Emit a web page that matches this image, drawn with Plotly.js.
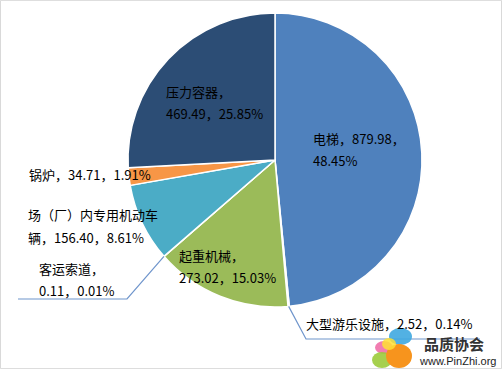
<!DOCTYPE html>
<html>
<head>
<meta charset="utf-8">
<script src="https://cdn.plot.ly/plotly-3.0.1.min.js"></script>
<style>html,body{margin:0;padding:0;background:#fff;}#chart{width:502px;height:369px;}</style>
</head>
<body>
<div id="chart"></div>
<script>
// Data
const categories = ["电梯", "大型游乐设施", "起重机械", "客运索道", "场（厂）内专用机动车辆", "锅炉", "压力容器"];
const values = [879.98, 2.52, 273.02, 0.11, 156.40, 34.71, 469.49];
const colors = ["#4F81BD", "#C0504D", "#9BBB59", "#8064A2", "#4BACC6", "#F79646", "#2C4D75"];

const W = 502, H = 369;
const cx = 275, cy = 160, R = 147;
const px = x => x / W;
const py = y => 1 - y / H;

const total = values.reduce((a, b) => a + b, 0);
const pct = values.map(v => (v / total * 100).toFixed(2) + "%");
const val = values.map(v => v.toFixed(2));

const labelDefs = [
  {i: 6, lines: [categories[6] + "，", val[6] + "，" + pct[6]], x: 164, y: 91},
  {i: 0, lines: [categories[0] + "，" + val[0] + "，", pct[0]], x: 311, y: 138},
  {i: 5, lines: [categories[5] + "，" + val[5] + "，" + pct[5]], x: 27, y: 174},
  {i: 4, lines: ["场（厂）内专用机动车", "辆，" + val[4] + "，" + pct[4]], x: 26, y: 215},
  {i: 3, lines: [categories[3] + "，", val[3] + "，" + pct[3]], x: 37, y: 268},
  {i: 2, lines: [categories[2] + "，", val[2] + "，" + pct[2]], x: 177, y: 255},
  {i: 1, lines: [categories[1] + "，" + val[1] + "，" + pct[1]], x: 304, y: 323}
];

const annotations = [];
labelDefs.forEach(d => {
  d.lines.forEach((t, k) => {
    annotations.push({
      text: t, x: px(d.x), y: py(d.y + k * 22), xref: "paper", yref: "paper",
      xanchor: "left", yanchor: "middle", showarrow: false,
      font: {family: "Noto Sans CJK SC, sans-serif", size: 13, color: "#000"}
    });
  });
});

function edgePoint(idx) {
  let before = 0;
  for (let j = 0; j < idx; j++) before += values[j];
  const frac = (before + values[idx] / 2) / total;
  const a = frac * 2 * Math.PI;
  return [cx + R * Math.sin(a), cy - R * Math.cos(a)];
}
const p3 = edgePoint(3), p1 = edgePoint(1);
const lineStyle = {color: "#6F95CC", width: 1.2};
const shapes = [
  {type: "rect", xref: "paper", yref: "paper", x0: 0.001, x1: 0.999, y0: 0.001, y1: 0.999, line: {color: "#D9D9D9", width: 1}},
  {type: "path", xref: "paper", yref: "paper", path: `M ${px(p3[0])} ${py(p3[1])} L ${px(127)} ${py(299)} L ${px(18)} ${py(299)}`, line: lineStyle},
  {type: "path", xref: "paper", yref: "paper", path: `M ${px(p1[0])} ${py(p1[1])} L ${px(306)} ${py(339)} L ${px(480)} ${py(339)}`, line: lineStyle},
  {type: "circle", xref: "paper", yref: "paper", x0: px(375), x1: px(393), y0: py(354), y1: py(341), fillcolor: "#F06FA8", line: {width: 0}, opacity: 0.9},
  {type: "circle", xref: "paper", yref: "paper", x0: px(389), x1: px(412), y0: py(345), y1: py(328), fillcolor: "#3FA9E0", line: {width: 0}, opacity: 0.9},
  {type: "circle", xref: "paper", yref: "paper", x0: px(372), x1: px(392), y0: py(368), y1: py(352), fillcolor: "#9CCB3B", line: {width: 0}, opacity: 0.9},
  {type: "circle", xref: "paper", yref: "paper", x0: px(386), x1: px(412), y0: py(368), y1: py(344), fillcolor: "#F7941D", line: {width: 0}},
  {type: "circle", xref: "paper", yref: "paper", x0: px(382), x1: px(396), y0: py(350), y1: py(338), fillcolor: "#FFE033", line: {width: 0}, opacity: 0.85}
];

annotations.push({
  text: "<b>品质协会</b>", x: px(454), y: py(343.5), xref: "paper", yref: "paper",
  xanchor: "center", yanchor: "middle", showarrow: false, borderpad: 0,
  font: {family: "Noto Sans CJK SC, sans-serif", size: 15, color: "#333"}
});
annotations.push({
  text: "www.PinZhi.org", x: px(457), y: py(361), xref: "paper", yref: "paper",
  xanchor: "center", yanchor: "middle", showarrow: false, borderpad: 0,
  font: {family: "Liberation Sans, Arial, sans-serif", size: 11, color: "#222"}
});

const trace = {
  type: "pie",
  labels: categories,
  values: values,
  sort: false,
  direction: "clockwise",
  rotation: 0,
  textinfo: "none",
  hoverinfo: "none",
  marker: {colors: colors, line: {color: "#FFFFFF", width: 1.5}},
  domain: {x: [px(cx - R), px(cx + R)], y: [py(cy + R), py(cy - R)]},
  showlegend: false
};

const layout = {
  width: W, height: H,
  margin: {l: 0, r: 0, t: 0, b: 0},
  paper_bgcolor: "#FFFFFF",
  showlegend: false,
  annotations: annotations,
  shapes: shapes
};

Plotly.newPlot("chart", [trace], layout, {displayModeBar: false, staticPlot: true});
</script>
</body>
</html>
